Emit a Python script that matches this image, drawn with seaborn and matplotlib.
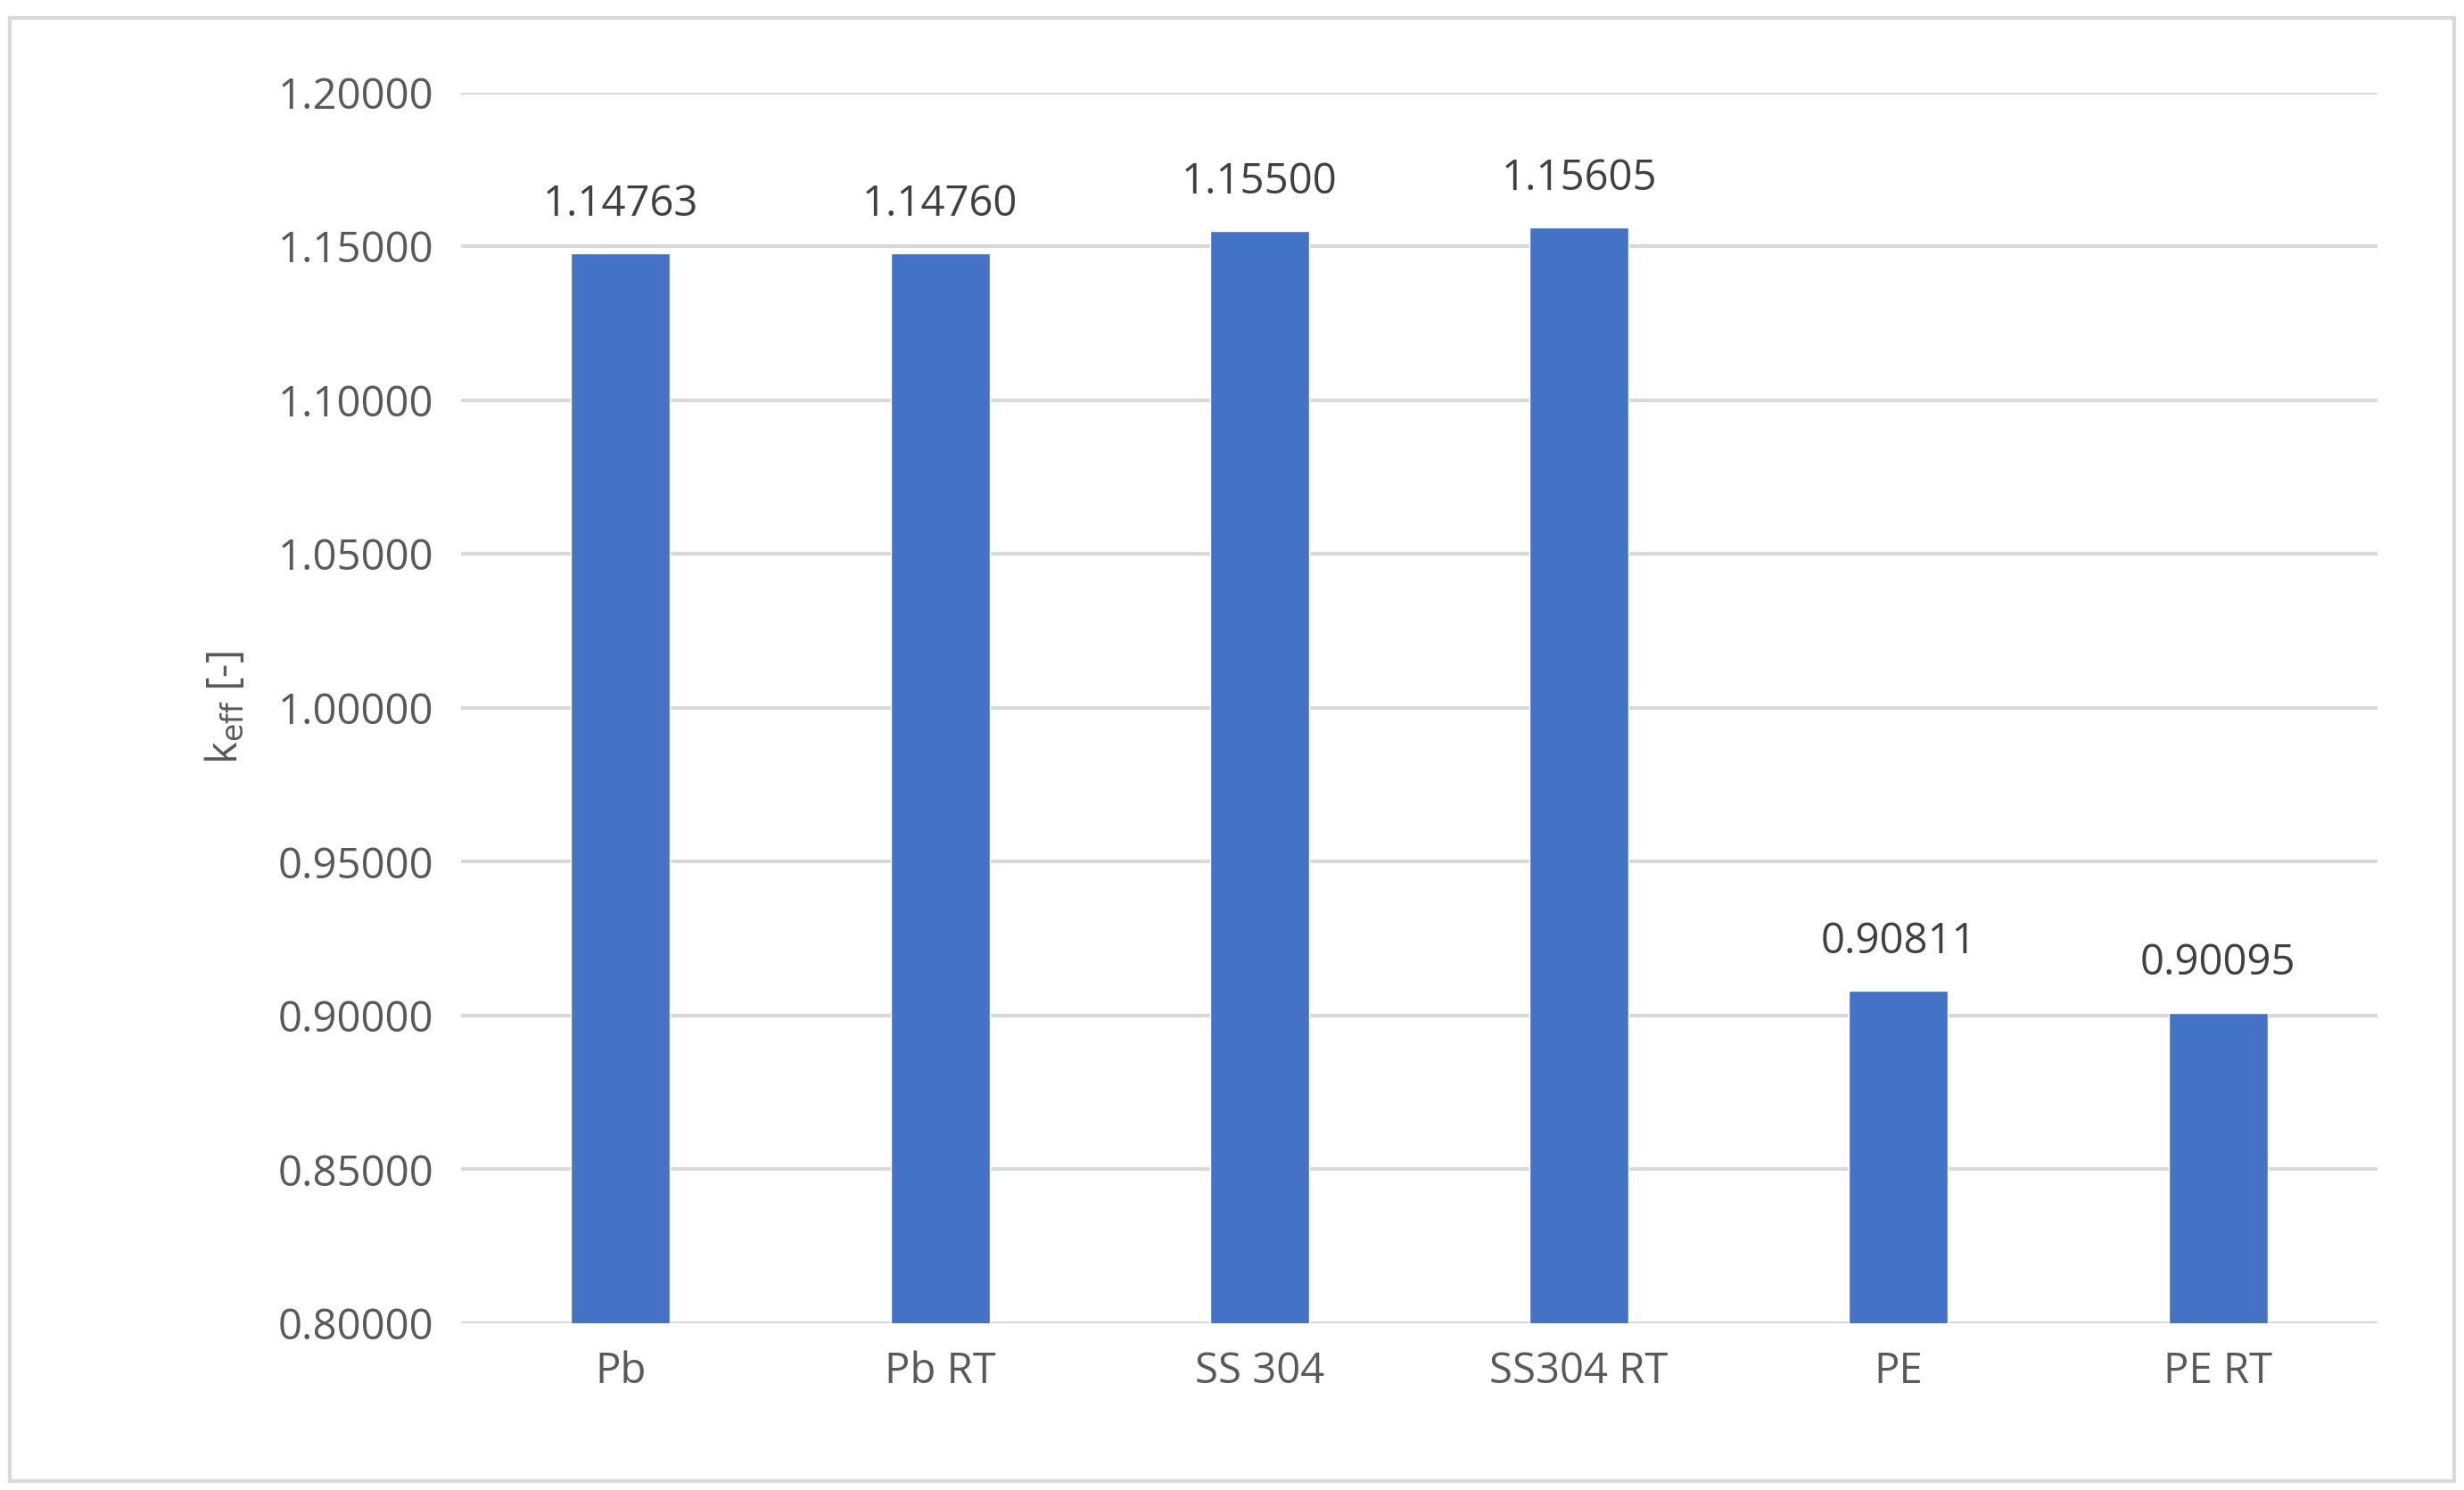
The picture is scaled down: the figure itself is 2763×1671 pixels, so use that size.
import matplotlib
matplotlib.use("Agg")
import matplotlib.pyplot as plt
import seaborn as sns
import pandas as pd
from matplotlib.patches import Rectangle

categories = ["Pb", "Pb RT", "SS 304", "SS304 RT", "PE", "PE RT"]
values = [1.14763, 1.14760, 1.15500, 1.15605, 0.90811, 0.90095]
labels = ["1.14763", "1.14760", "1.15500", "1.15605", "0.90811", "0.90095"]
yticks = [0.80, 0.85, 0.90, 0.95, 1.00, 1.05, 1.10, 1.15, 1.20]

sns.set_style("white")
plt.rcParams['font.family'] = ['Open Sans', 'DejaVu Sans']

fig = plt.figure(figsize=(27.63, 16.71), dpi=100)
ax = fig.add_axes([0.187, 0.112, 0.778, 0.826])
df = pd.DataFrame({"cat": categories, "val": values})
sns.barplot(data=df, x="cat", y="val", color="#4472C4", saturation=1, width=0.31, ax=ax, zorder=3)
ax.set_ylim(0.8, 1.2)
ax.set_yticks(yticks)
ax.set_yticklabels([f"{t:.5f}" for t in yticks])
ax.grid(axis="y", color="#d9d9d9", linewidth=3, zorder=0)
for s in ax.spines.values():
    s.set_visible(False)
ax.tick_params(axis="both", labelsize=34, colors="#595959", length=0, pad=22)
ax.set_xlabel("")
ax.set_ylabel(r"k$_{\mathrm{eff}}$ [-]", fontsize=34, color="#595959", labelpad=25)
for i, (v, l) in enumerate(zip(values, labels)):
    ax.text(i, v + 0.009, l, ha="center", va="bottom", fontsize=34, color="#404040")
fig.patches.append(Rectangle((0.004, 0.006), 0.992, 0.982, transform=fig.transFigure,
                             fill=False, edgecolor="#d9d9d9", linewidth=3))
fig.savefig("out.png", dpi=100)
